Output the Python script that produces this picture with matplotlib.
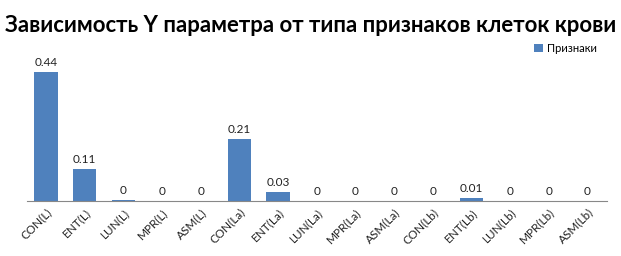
"""Bar chart: dependence of Y parameter on blood cell feature type."""
import matplotlib
matplotlib.use("Agg")
import matplotlib.pyplot as plt

CATEGORIES = [
    "CON(L)", "ENT(L)", "LUN(L)", "MPR(L)", "ASM(L)",
    "CON(La)", "ENT(La)", "LUN(La)", "MPR(La)", "ASM(La)",
    "CON(Lb)", "ENT(Lb)", "LUN(Lb)", "MPR(Lb)", "ASM(Lb)",
]
VALUES = [0.44, 0.11, 0.003, 0.0, 0.0, 0.21, 0.03, 0.0, 0.0, 0.0, 0.0, 0.01, 0.0, 0.0, 0.0]
TITLE = "Зависимость Y параметра от типа признаков клеток крови"
SERIES = "Признаки"

BAR_COLOR = "#4F81BD"
plt.rcParams["font.family"] = ["Lato", "DejaVu Sans"]


def fmt(v: float) -> str:
    s = f"{v:.2f}".rstrip("0").rstrip(".")
    return s


def main() -> None:
    fig = plt.figure(figsize=(6.21, 2.56), dpi=100)
    ax = fig.add_axes([0.043, 0.215, 0.934, 0.572])
    x = range(len(CATEGORIES))
    bars = ax.bar(x, VALUES, width=0.6, color=BAR_COLOR, label=SERIES)
    for b, v in zip(bars, VALUES):
        ax.annotate(fmt(v), (b.get_x() + b.get_width() / 2, b.get_height()),
                    xytext=(0, 3), textcoords="offset points",
                    ha="center", va="bottom", fontsize=8.5, color="#222222")
    ax.set_xlim(-0.5, len(CATEGORIES) - 0.5)
    ax.set_ylim(0, 0.5)
    ax.set_xticks(list(x))
    ax.set_xticklabels(CATEGORIES, rotation=45, ha="right", rotation_mode="anchor",
                       fontsize=8.5, color="#222222")
    ax.tick_params(axis="x", length=0, pad=4)
    ax.set_yticks([])
    for side in ("top", "right", "left"):
        ax.spines[side].set_visible(False)
    ax.spines["bottom"].set_color("#888888")

    fig.text(0.5, 0.9, TITLE, ha="center", va="center", fontsize=15.9,
             fontweight="bold")
    fig.legend(loc="upper right", bbox_to_anchor=(0.972, 0.858), frameon=False,
               fontsize=8, handlelength=0.8, handleheight=0.8, handletextpad=0.4,
               borderpad=0.1)

    fig.savefig("out.png", dpi=100)
    plt.close(fig)


if __name__ == "__main__":
    main()
